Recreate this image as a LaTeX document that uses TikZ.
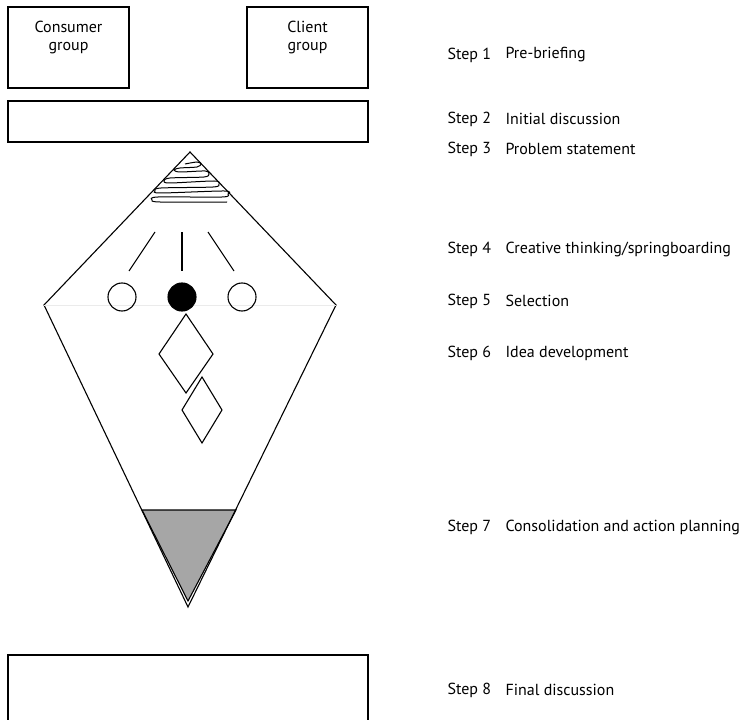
\documentclass[tikz,border=0pt]{standalone}
\usepackage{fontspec}
\setmainfont{PT Sans}
\usetikzlibrary{positioning}

\tikzset{
	groupbox/.style={draw, line width=1.2pt, inner sep=0pt, minimum width=121pt, minimum height=81pt},
	boxtext/.style={align=center, inner sep=0pt, font=\fontsize{16}{18}\selectfont},
	steptext/.style={anchor=west, inner sep=0pt, font=\fontsize{16}{18}\selectfont},
	ball/.style={draw, circle, line width=1.1pt, inner sep=0pt, minimum size=28pt},
}

\begin{document}
\begin{tikzpicture}[x=1pt, y=-1pt, line width=1.1pt]
				\useasboundingbox (0,0) rectangle (751,719);
				% groups and bars
				\node[groupbox] (consumer) at (68.5, 47.5) {};
				\node[groupbox] (client) at (307.5, 47.5) {};
				\node[boxtext, below=14pt of consumer.north] (consumertext) {Consumer\\group};
				\node[boxtext, below=14pt of client.north] (clienttext) {Client\\group};
				\node[groupbox, minimum width=360pt, minimum height=41pt] (discussion) at (188, 121.5) {};
				\coordinate (finalnw) at (8, 655);
				\coordinate (finalne) at (368, 655);
				\draw[line width=1.2pt] (8, 725) -- (finalnw) -- (finalne) -- (368, 725);
				% kite
				\coordinate (apex) at (190, 152);
				\coordinate (kiteleft) at (44, 305);
				\coordinate (kiteright) at (336, 305);
				\coordinate (kitebottom) at (188, 607);
				\draw[fill=black!35] (142, 510) -- (236, 510) -- (188, 601) -- cycle;
				\draw (kiteleft) -- (apex) -- (kiteright) -- (kitebottom) -- cycle;
				\draw[black!8, line width=0.8pt] (kiteleft) -- (kiteright);
				% coil
				\draw[line width=1pt] plot[smooth, tension=0.5] coordinates {(185,164) (197,162) (201,164) (197,167) (180,168) (174,170) (180,172) (205,171) (209,174) (204,177) (170,178) (164,181) (170,183) (214,181) (219,184) (213,187) (161,188) (155,191) (161,193) (224,191) (228,194) (222,197) (158,197) (152,200) (160,202) (227,202)};
				% ideas
				\draw (129, 271) -- (155, 232);
				\draw (182, 232) -- (182, 271);
				\draw (208, 232) -- (234, 271);
				\node[ball] (idea1) at (122, 297) {};
				\node[ball, fill=black] (idea2) at (182, 297) {};
				\node[ball] (idea3) at (242, 297) {};
				\draw (186, 314) -- (213, 354) -- (186, 393) -- (159, 354) -- cycle;
				\draw (202, 377) -- (222, 410) -- (202, 443) -- (182, 410) -- cycle;
				% steps
				\foreach \n/\y/\t in {1/55/{Pre-briefing}, 2/119/{Initial discussion}, 3/149/{Problem statement}, 4/249/{Creative thinking/springboarding}, 5/301/{Selection}, 6/353/{Idea development}, 7/527/{Consolidation and action planning}, 8/690/{Final discussion}}{
					\node[steptext] (step\n) at (447, \y) {Step \n};
					\node[steptext] (stepname\n) at (505, \y) {\t};
				}
			\end{tikzpicture}
\end{document}
